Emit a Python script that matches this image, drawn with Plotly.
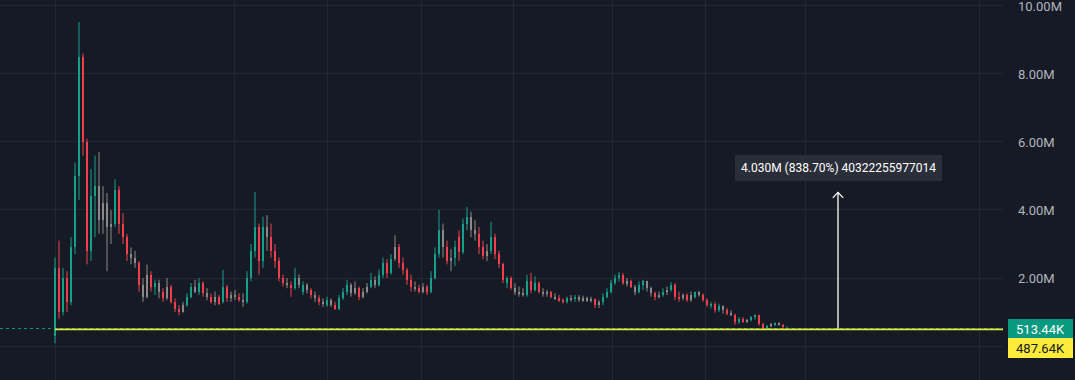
import plotly.graph_objects as go

# ---- data (values in millions) ----
opens = [0.3, 2.3, 1.0, 2.0, 1.3, 2.9, 5.0, 8.5, 6.0, 2.8,
         4.4, 4.7, 3.7, 4.2, 3.5, 3.6, 4.6, 3.6, 3.2, 2.7,
         2.6, 2.45, 1.8, 1.45, 2.1, 1.75, 1.85, 1.6, 1.4, 1.75,
         1.3, 1.1, 1.0, 1.2, 1.45, 1.75, 1.6, 1.85, 1.55, 1.45,
         1.3, 1.45, 1.3, 1.75, 1.4, 1.5, 1.45, 1.35, 1.3, 2.0,
         2.8, 3.5, 2.5, 3.5, 3.2, 2.8, 2.5, 2.0, 1.85, 1.8,
         1.7, 2.0, 1.6, 1.8, 1.65, 1.5, 1.4, 1.3, 1.2, 1.35,
         1.2, 1.1, 1.4, 1.6, 1.8, 1.55, 1.7, 1.45, 1.6, 1.75,
         1.95, 1.8, 2.1, 2.45, 2.15, 2.55, 2.9, 2.45, 2.25, 1.95,
         1.75, 1.7, 1.6, 1.75, 1.6, 2.0, 2.7, 3.4, 2.9, 2.5,
         2.6, 3.2, 2.75, 3.6, 3.8, 3.4, 3.3, 2.9, 2.65, 2.8,
         3.2, 2.7, 2.4, 1.85, 2.0, 1.7, 1.6, 1.55, 1.5, 1.9,
         1.65, 1.85, 1.6, 1.55, 1.6, 1.45, 1.4, 1.35, 1.3, 1.4,
         1.38, 1.45, 1.35, 1.4, 1.35, 1.38, 1.2, 1.28, 1.45, 1.6,
         1.85, 2.0, 2.1, 1.85, 1.9, 1.75, 1.6, 1.8, 1.9, 1.7,
         1.55, 1.45, 1.5, 1.6, 1.65, 1.8, 1.45, 1.4, 1.5, 1.35,
         1.45, 1.58, 1.5, 1.35, 1.2, 1.25, 1.05, 1.18, 1.05, 0.95,
         0.92, 0.7, 0.8, 0.72, 0.76, 0.84, 0.9, 0.65, 0.5, 0.58,
         0.64, 0.66, 0.62, 0.5]

highs = [2.6, 3.1, 2.3, 2.2, 3.2, 5.4, 9.53, 8.6, 6.1, 5.2,
         5.6, 5.7, 4.7, 4.5, 4.0, 4.9, 4.7, 3.9, 3.3, 2.9,
         2.8, 2.5, 2.0, 2.4, 2.2, 1.95, 1.95, 1.7, 2.0, 1.8,
         1.4, 1.2, 1.3, 1.55, 1.85, 1.95, 2.0, 1.9, 1.7, 1.55,
         1.6, 1.5, 2.24, 1.8, 1.6, 1.65, 1.55, 1.55, 2.2, 3.0,
         4.53, 3.6, 3.8, 3.85, 3.6, 3.0, 2.6, 2.1, 2.0, 1.9,
         2.3, 2.1, 1.9, 1.85, 1.7, 1.6, 1.5, 1.4, 1.45, 1.4,
         1.3, 1.5, 1.7, 1.95, 1.85, 1.9, 1.75, 1.7, 1.85, 2.15,
         2.05, 2.25, 2.6, 2.55, 2.7, 3.26, 3.0, 2.6, 2.3, 2.1,
         1.9, 1.8, 1.85, 1.8, 2.2, 2.9, 4.0, 3.6, 3.1, 2.85,
         3.1, 3.4, 3.75, 4.09, 3.95, 3.7, 3.5, 3.1, 3.0, 3.65,
         3.3, 2.8, 2.45, 2.05, 2.05, 1.85, 1.75, 1.7, 2.1, 2.15,
         2.05, 1.9, 1.7, 1.65, 1.62, 1.55, 1.5, 1.4, 1.45, 1.5,
         1.5, 1.5, 1.48, 1.45, 1.45, 1.4, 1.35, 1.55, 1.7, 1.95,
         2.1, 2.18, 2.15, 2.0, 1.95, 1.8, 1.9, 1.95, 1.92, 1.75,
         1.6, 1.6, 1.7, 1.75, 1.88, 1.85, 1.6, 1.55, 1.55, 1.6,
         1.6, 1.62, 1.55, 1.4, 1.3, 1.3, 1.25, 1.2, 1.12, 1.05,
         0.95, 0.85, 0.85, 0.8, 0.88, 0.93, 0.92, 0.68, 0.62, 0.68,
         0.7, 0.7, 0.65, 0.58]

lows = [0.08, 0.8, 0.9, 1.0, 1.2, 2.7, 4.3, 5.6, 2.4, 2.5,
        3.2, 3.3, 3.3, 2.2, 3.0, 3.5, 3.3, 3.0, 2.5, 2.4,
        2.3, 1.6, 1.3, 1.4, 1.6, 1.5, 1.4, 1.3, 1.35, 1.25,
        1.0, 0.91, 0.98, 1.15, 1.4, 1.55, 1.5, 1.45, 1.35, 1.25,
        1.2, 1.2, 1.25, 1.3, 1.3, 1.35, 1.3, 1.15, 1.25, 1.9,
        2.6, 2.1, 2.3, 2.8, 2.6, 2.3, 1.9, 1.75, 1.7, 1.45,
        1.65, 1.7, 1.5, 1.55, 1.4, 1.3, 1.2, 1.15, 1.15, 1.15,
        1.06, 1.05, 1.35, 1.5, 1.45, 1.5, 1.35, 1.4, 1.55, 1.7,
        1.7, 1.75, 2.0, 2.0, 2.1, 2.5, 2.3, 2.1, 1.8, 1.6,
        1.6, 1.55, 1.55, 1.5, 1.55, 1.95, 2.6, 2.6, 2.4, 2.2,
        2.35, 2.5, 2.7, 3.4, 3.2, 3.1, 2.7, 2.55, 2.5, 2.7,
        2.55, 2.3, 1.85, 1.7, 1.65, 1.5, 1.45, 1.45, 1.45, 1.55,
        1.6, 1.55, 1.45, 1.45, 1.4, 1.35, 1.3, 1.25, 1.25, 1.3,
        1.3, 1.3, 1.3, 1.3, 1.28, 1.12, 1.12, 1.2, 1.4, 1.55,
        1.8, 1.9, 1.8, 1.75, 1.7, 1.5, 1.55, 1.65, 1.6, 1.45,
        1.35, 1.4, 1.45, 1.5, 1.6, 1.35, 1.3, 1.35, 1.3, 1.3,
        1.4, 1.45, 1.3, 1.15, 1.1, 0.98, 1.0, 0.95, 0.9, 0.88,
        0.62, 0.65, 0.68, 0.68, 0.72, 0.78, 0.6, 0.47, 0.48, 0.55,
        0.58, 0.6, 0.48, 0.49]

closes = [2.3, 1.0, 2.0, 1.3, 2.9, 5.0, 8.5, 6.0, 2.8, 4.4,
          4.7, 3.7, 4.2, 3.5, 3.6, 4.6, 3.6, 3.2, 2.7, 2.6,
          2.45, 1.8, 1.45, 2.1, 1.75, 1.85, 1.6, 1.4, 1.75, 1.3,
          1.1, 1.0, 1.2, 1.45, 1.75, 1.6, 1.85, 1.55, 1.45, 1.3,
          1.45, 1.25, 1.75, 1.4, 1.5, 1.45, 1.35, 1.3, 2.0, 2.8,
          3.5, 2.5, 3.5, 3.2, 2.8, 2.5, 2.0, 1.85, 1.8, 1.7,
          2.0, 1.8, 1.8, 1.65, 1.5, 1.4, 1.3, 1.25, 1.35, 1.2,
          1.1, 1.4, 1.6, 1.8, 1.55, 1.7, 1.45, 1.6, 1.75, 1.95,
          1.8, 2.1, 2.45, 2.15, 2.55, 2.9, 2.45, 2.25, 1.95, 1.75,
          1.7, 1.6, 1.75, 1.6, 2.0, 2.7, 3.4, 2.9, 2.5, 2.6,
          2.9, 2.75, 3.6, 3.8, 3.4, 3.3, 2.9, 2.65, 2.8, 3.2,
          2.7, 2.4, 1.95, 2.0, 1.7, 1.6, 1.55, 1.5, 1.9, 1.65,
          1.85, 1.6, 1.55, 1.6, 1.45, 1.4, 1.35, 1.3, 1.4, 1.38,
          1.45, 1.35, 1.4, 1.35, 1.38, 1.2, 1.28, 1.45, 1.6, 1.85,
          2.0, 2.1, 1.85, 1.9, 1.75, 1.6, 1.8, 1.9, 1.7, 1.55,
          1.45, 1.5, 1.6, 1.65, 1.8, 1.45, 1.4, 1.5, 1.35, 1.5,
          1.58, 1.5, 1.35, 1.2, 1.25, 1.05, 1.18, 1.05, 0.95, 0.92,
          0.7, 0.8, 0.72, 0.76, 0.84, 0.9, 0.65, 0.5, 0.58, 0.64,
          0.66, 0.62, 0.55, 0.513]

kinds = ['u','d','u','d','u','u','u','d','d','u',
         'u','g','g','g','g','u','d','d','d','g',
         'g','d','g','g','d','u','g','d','g','d',
         'd','d','g','u','u','g','u','d','g','d',
         'g','d','u','d','g','g','d','g','u','u',
         'u','d','u','g','d','d','d','d','g','d',
         'u','g','u','g','d','g','d','g','u','g',
         'd','u','u','u','g','g','d','g','g','u',
         'g','u','u','d','u','g','d','d','d','d',
         'g','d','g','d','u','u','u','g','d','g',
         'u','d','u','u','g','g','d','d','g','u',
         'd','d','d','u','d','g','g','g','u','d',
         'u','d','g','g','d','g','d','d','u','g',
         'u','g','g','g','g','d','g','u','u','u',
         'u','u','d','g','d','g','u','u','g','g',
         'd','g','u','g','u','d','d','g','d','g',
         'u','g','d','d','u','d','u','g','d','g',
         'd','u','d','g','u','u','d','d','u','g',
         'u','g','d','u']

y_tick_vals = [0, 2, 4, 6, 8, 10]
y_tick_text = ["", "2.00M", "4.00M", "6.00M", "8.00M", "10.00M"]
time_grid = [0, 44.75, 68, 91.5, 114.5, 139.25, 162.5, 187.5, 231]

last_price = 0.51344
last_label = "513.44K"
hline_price = 0.48764
hline_label = "487.64K"
measure_delta = 4.030
measure_idx = 195.75
measure_text = "4.030M (838.70%) 40322255977014"

# ---- styling ----
BG = "#161a25"
GRID = "#242833"
COLORS = {'u': '#17a08b', 'd': '#f0414f', 'g': '#8d8989'}
TEAL_LABEL = "#089981"
YELLOW = "#ffeb3b"

x = list(range(len(closes)))
fig = go.Figure()

for k, col in COLORS.items():
    wx, wy = [], []
    for i in x:
        if kinds[i] == k:
            wx += [i, i, None]
            wy += [lows[i], highs[i], None]
    fig.add_trace(go.Scatter(x=wx, y=wy, mode="lines",
                             line=dict(color=col, width=1),
                             hoverinfo="skip", showlegend=False))

fig.add_trace(go.Bar(
    x=x,
    y=[max(abs(c - o), 0.02) for o, c in zip(opens, closes)],
    base=[min(o, c) for o, c in zip(opens, closes)],
    width=0.6,
    marker=dict(color=[COLORS[k] for k in kinds], line=dict(width=0)),
    showlegend=False, hoverinfo="skip"))

# measure arrow
top = hline_price + measure_delta
fig.add_trace(go.Scatter(x=[measure_idx, measure_idx], y=[hline_price, top],
                         mode="lines", line=dict(color="#ffffff", width=1.3),
                         hoverinfo="skip", showlegend=False))
fig.add_trace(go.Scatter(x=[measure_idx - 1.3, measure_idx, measure_idx + 1.3],
                         y=[top - 0.16, top, top - 0.16],
                         mode="lines", line=dict(color="#ffffff", width=1.3),
                         hoverinfo="skip", showlegend=False))

fig.update_layout(
    width=1075, height=380,
    margin=dict(l=0, r=72, t=0, b=0),
    paper_bgcolor=BG, plot_bgcolor=BG,
    showlegend=False, hovermode=False,
    barmode="overlay", bargap=0,
    shapes=[
        dict(type="line", xref="paper", x0=0, x1=1, yref="y",
             y0=last_price, y1=last_price,
             line=dict(color=TEAL_LABEL, width=1, dash="dot"), layer="below"),
        dict(type="line", xref="x", x0=0, x1=400, yref="y",
             y0=hline_price, y1=hline_price,
             line=dict(color="#e4ea3e", width=1.6)),
    ],
    annotations=[
        dict(x=measure_idx, y=top, xref="x", yref="y", yshift=24,
             text=measure_text, showarrow=False,
             font=dict(family="Roboto", size=12, color="#ffffff"),
             bgcolor="#2a2e39", bordercolor="#2a2e39", borderwidth=0,
             borderpad=6, xanchor="center", yanchor="middle"),
        dict(x=1, y=last_price, xref="paper", yref="y", xanchor="left",
             yanchor="middle", xshift=5, text=last_label, showarrow=False,
             font=dict(family="Roboto", size=13, color="#ffffff"),
             bgcolor=TEAL_LABEL, width=59, height=14, borderpad=3,
             borderwidth=0),
        dict(x=1, y=hline_price, xref="paper", yref="y", xanchor="left",
             yanchor="middle", xshift=5, yshift=-19, text=hline_label,
             showarrow=False,
             font=dict(family="Roboto", size=13, color="#131722"),
             bgcolor=YELLOW, width=59, height=14, borderpad=3,
             borderwidth=0),
    ],
)

fig.update_xaxes(range=[-13.75, 237], tickvals=time_grid, showticklabels=False,
                 showgrid=True, gridcolor=GRID, gridwidth=1, zeroline=False,
                 showline=False, ticks="")
fig.update_yaxes(side="right", range=[-1.0, 10.176], tickvals=y_tick_vals,
                 ticktext=y_tick_text, showgrid=True, gridcolor=GRID,
                 gridwidth=1, zeroline=False, showline=False, ticks="",
                 ticklabelstandoff=14, ticklabeloverflow="allow",
                 tickfont=dict(family="Roboto", size=13, color="#b2b5be"))

fig.write_html("out.html")
